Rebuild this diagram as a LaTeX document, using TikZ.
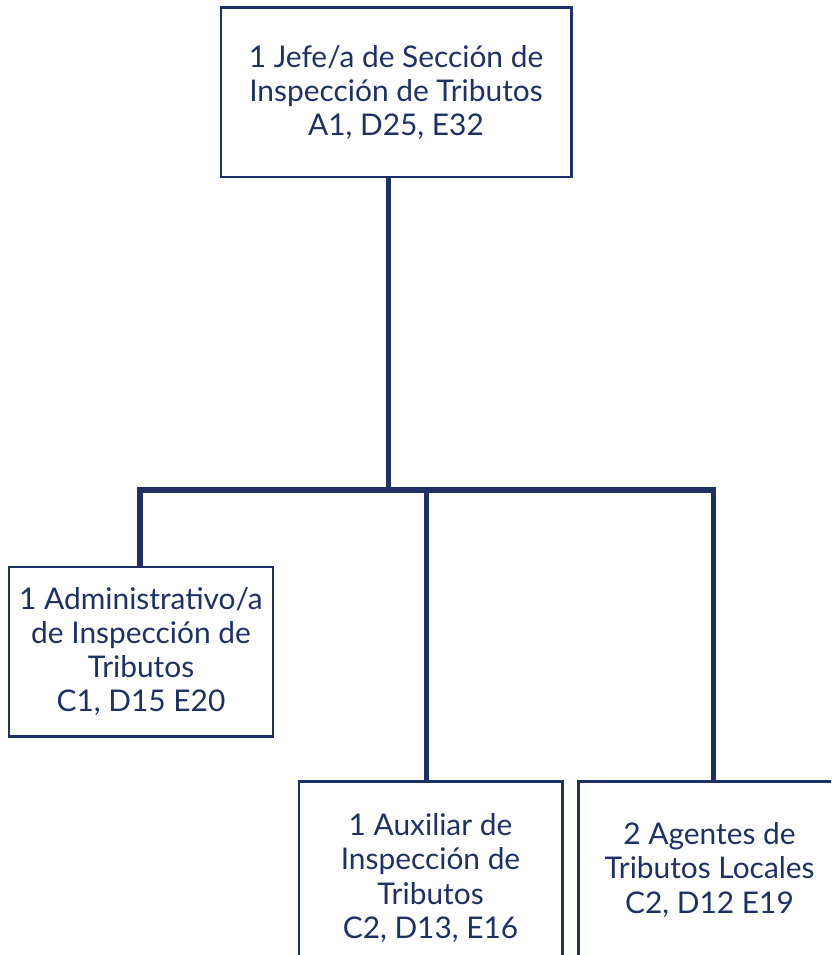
\documentclass[tikz,border=0pt]{standalone}
\usepackage{fontspec}
\setmainfont{Lato}
\usetikzlibrary{positioning}
\definecolor{navy}{RGB}{30,48,100}

\begin{document}
\begin{tikzpicture}[x=0.02cm, y=-0.02cm,
  box/.style={draw=navy, line width=1.7pt, rectangle, align=center, text=navy,
    font=\fontsize{17}{19.5}\selectfont, inner sep=0pt},
  link/.style={draw=navy, line width=2.85pt}]
  \useasboundingbox (0,0) rectangle (831,955);
  \clip (0,0) rectangle (831,955);
  % boxes
  \node[box, minimum width=350*0.02cm, minimum height=169*0.02cm] (jefe) at (396,92.5)
    {1 Jefe/a de Sección de\\Inspección de Tributos\\A1, D25, E32};
  \node[box, minimum width=264*0.02cm, minimum height=169*0.02cm] (admin) at (141,651.5)
    {1 Administrativo/a\\de Inspección de\\Tributos\\C1, D15 E20};
  \node[box, minimum width=263*0.02cm, minimum height=194*0.02cm] (aux) at (430.5,878)
    {1 Auxiliar de\\Inspección de\\Tributos\\C2, D13, E16};
  \node[box, minimum width=263*0.02cm, minimum height=178*0.02cm] (agentes) at (709.5,870)
    {2 Agentes de\\Tributos Locales\\C2, D12 E19};
  % lines
  \coordinate (bus) at (388,490);
  \coordinate (d1) at (140,490);
  \coordinate (d2) at (426,490);
  \coordinate (d3) at (713,490);
  \draw[link] (jefe.south -| bus) -- (bus);
  \draw[link] (d1 |- admin.north) -- (d1) -- (d3) -- (d3 |- agentes.north);
  \draw[link] (d2) -- (d2 |- aux.north);
\end{tikzpicture}
\end{document}
